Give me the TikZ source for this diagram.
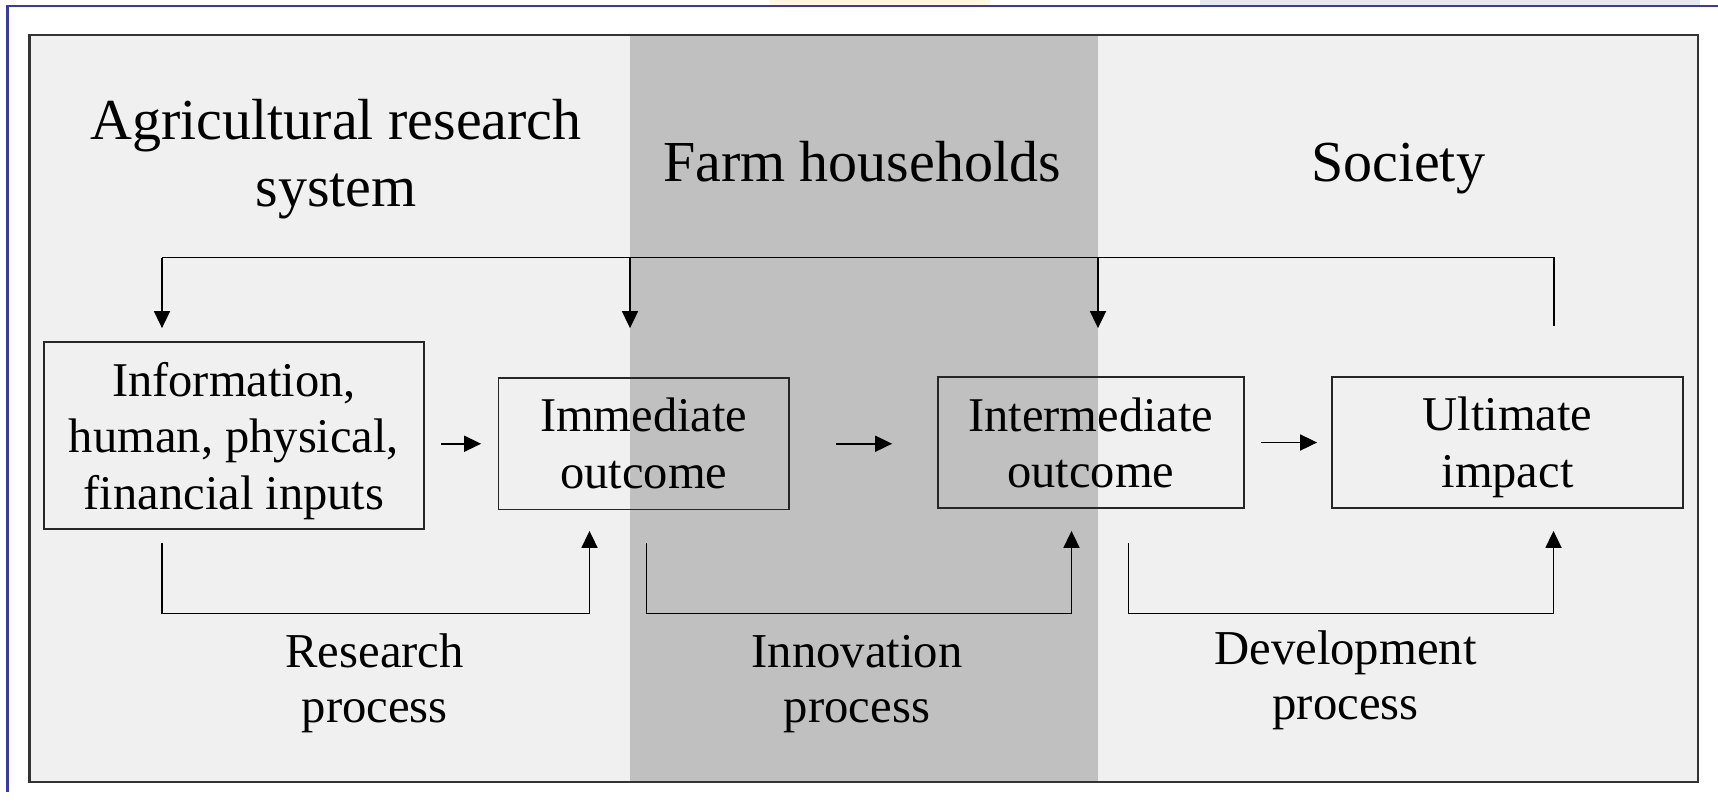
\documentclass[tikz,border=0pt]{standalone}
\usepackage{fontspec}
\setmainfont{Liberation Serif}
\usetikzlibrary{arrows.meta}
\definecolor{panel}{HTML}{F0F0F0}
\definecolor{band}{HTML}{C0C0C0}
\definecolor{navy}{HTML}{3B3B9E}
\definecolor{faintyellow}{HTML}{FFF7E0}
\definecolor{faintblue}{HTML}{E4E8F0}
\begin{document}
\begin{tikzpicture}[x=0.5pt,y=-0.5pt,
  box/.style={draw=black!85, line width=0.9pt, inner sep=0pt},
  boxtext/.style={anchor=base, inner sep=0pt, align=center,
    font=\fontsize{24.25pt}{28.3pt}\selectfont},
  title/.style={anchor=base, inner sep=0pt, align=center, font=\fontsize{29pt}{33.5pt}\selectfont},
  proc/.style={anchor=base, inner sep=0pt, align=center, font=\fontsize{24.35pt}{27.5pt}\selectfont},
  conn/.style={draw=black, line width=0.9pt},
  arr/.style={conn, -{Triangle[length=8.5pt,width=8pt]}},
]
\useasboundingbox (0,0) rectangle (1718,804);
\fill[white] (0,0) rectangle (1718,804);
% faint background fragments above the top rule
\fill[faintyellow] (770,0) rectangle (990,5);
\fill[faintblue] (1200,0) rectangle (1700,5);
\draw[navy, line width=1.2pt] (7.5,792) -- (7.5,6) -- (1718,6);
% panels
\fill[panel] (29.5,35) rectangle (1698,782);
\fill[band] (630,35) rectangle (1098,782);
\draw[black!80, line width=1.25pt] (29.5,35) rectangle (1698,782);
% titles (anchor = baseline of last line)
\node[title] (tAgr) at (336,206) {Agricultural research\\system};
\node[title] (tFarm) at (862,181.8) {Farm households};
\node[title] (tSoc) at (1398,181.8) {Society};
% boxes
\node[box, minimum width=190pt, minimum height=93.5pt] (box1) at (234,435.5) {};
\node[box, minimum width=145.25pt, minimum height=65.75pt] (box2) at (643.75,443.75) {};
\node[box, minimum width=152.8pt, minimum height=65.5pt] (box3) at (1090.8,442.5) {};
\node[box, minimum width=175.5pt, minimum height=65.5pt] (box4) at (1507.5,442.5) {};
\node[boxtext] (box1t) at (234,509.5) {Information,\\human, physical,\\financial inputs};
\node[boxtext] (box2t) at (643.75,488.3) {Immediate\\outcome};
\node[boxtext] (box3t) at (1090.8,487.6) {Intermediate\\outcome};
\node[boxtext] (box4t) at (1507.5,487.3) {Ultimate\\impact};
% process labels
\node[proc] (lRes) at (374.7,722.7) {Research\\process};
\node[proc] (lInn) at (857,722.7) {Innovation\\process};
\node[proc] (lDev) at (1345.5,719.4) {Development\\process};
% feedback loop
\coordinate (fbL) at (162,257.5);
\coordinate (fbM1) at (630,257.5);
\coordinate (fbM2) at (1098,257.5);
\coordinate (fbR) at (1554,257.5);
\draw[conn, shorten <=25pt] (box4.north -| fbR) -- (fbR) -- (fbL);
\draw[arr, shorten >=6.5pt] (fbL) -- (box1.north -| fbL);
\draw[arr, shorten >=24.5pt] (fbM1) -- (box2.north -| fbM1);
\draw[arr, shorten >=24pt] (fbM2) -- (box3.north -| fbM2);
% forward arrows
\draw[arr, shorten <=8.25pt, shorten >=8.25pt] (box1.east |- box2.west) -- (box2.west);
\draw[arr, shorten <=23pt, shorten >=22.5pt] (box2.east) -- (box3.west |- box2.east);
\draw[arr, shorten <=8.25pt, shorten >=7pt] (box3.east) -- (box4.west);
% process brackets
\coordinate (b1s) at (162,613.5);
\coordinate (b1e) at (589.5,613.5);
\coordinate (b2s) at (646.5,613.5);
\coordinate (b2e) at (1071.5,613.5);
\coordinate (b3s) at (1128.5,613.5);
\coordinate (b3e) at (1553.5,613.5);
\draw[arr, shorten <=6.5pt, shorten >=10.25pt] (box1.south -| b1s) -- (b1s) -- (b1e) -- (box2.south -| b1e);
\draw[arr, shorten <=16.25pt, shorten >=11pt] (box2.south -| b2s) -- (b2s) -- (b2e) -- (box3.south -| b2e);
\draw[arr, shorten <=17pt, shorten >=11pt] (box3.south -| b3s) -- (b3s) -- (b3e) -- (box4.south -| b3e);
\end{tikzpicture}
\end{document}
